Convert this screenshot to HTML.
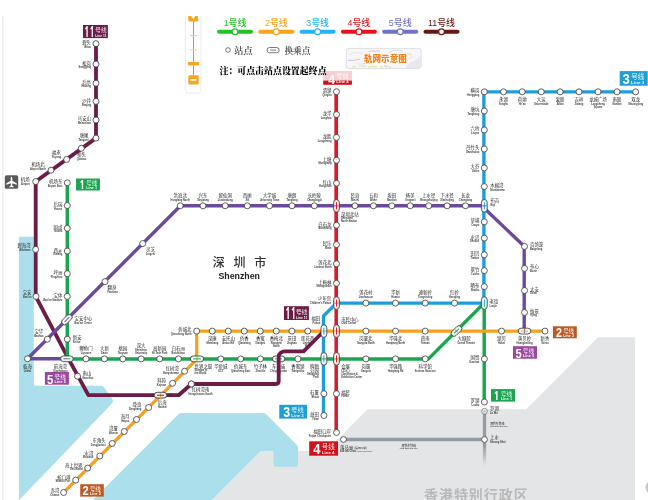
<!DOCTYPE html>
<html lang="zh-CN"><head><meta charset="utf-8"><title>深圳地铁线路图</title>
<style>html,body{margin:0;padding:0;background:#fff;overflow:hidden}body{width:648px;height:500px;position:relative;font-family:"Liberation Sans","Noto Sans CJK SC",sans-serif}svg{display:block;position:absolute;left:0;top:0}text{font-family:"Liberation Sans","Noto Sans CJK SC",sans-serif}</style></head><body>
<svg width="648" height="500" viewBox="0 0 648 500">
<defs><filter id="tb" filterUnits="userSpaceOnUse" x="0" y="0" width="5184" height="4000"><feGaussianBlur stdDeviation="1"/></filter><linearGradient id="hkfade" gradientUnits="userSpaceOnUse" x1="0" y1="411" x2="0" y2="466"><stop offset="0" stop-color="#949ba4"/><stop offset="0.62" stop-color="#949ba4"/><stop offset="1" stop-color="#949ba4" stop-opacity="0"/></linearGradient></defs>
<rect width="648" height="500" fill="#fff"/>
<line x1="2.8" y1="16.5" x2="2.8" y2="500" stroke="#ececec" stroke-width="1.2"/>
<g><path d="M635,337.3 H598 L526.2,409.3 H367.6 L326.2,451 H260.8 L211.8,500 H635 Z" fill="#e4e5e7"/><path d="M19,236.7 H33.8 V383.7 Q33.8,385.7 35.8,385.7 H101 Q102.6,385.7 103.6,386.9 L111.6,397.8 Q114.5,401.4 111.2,404.2 L19.2,500 H19 Z" fill="#abdfec"/><path d="M181.5,413 H263.8 Q265,413 265.9,413.9 L297,445 Q298,446 298,447.5 V464.8 Q298,466.8 296,466.8 H275.5 Q273.5,466.8 273.5,464.8 V451 H260.8 L211.8,500 H92.8 L178.8,414 Q179.8,413 181.5,413 Z" fill="#abdfec"/></g>
<g fill="none" stroke-linejoin="round" stroke-linecap="butt"><path d="M343.5,439.5 H484.5" stroke="#949ba4" stroke-width="3.3"/><path d="M484.5,411 V466" stroke="url(#hkfade)" stroke-width="3.3"/><path d="M96,43.6 V138.1 L35.7,181.5 V296.4 L68.5,358.8 L88.4,395.2 H172" stroke="#6c1c46" stroke-width="3.8"/><path d="M67.3,358.8 H27.5 L180.5,205.8 H484.3 V208.2 L524.2,246.3 V331" stroke="#6b4a9e" stroke-width="3.4"/><path d="M67.3,182.8 V358.9 H428.5 L484.2,303 V402" stroke="#1ba550" stroke-width="3.45"/><path d="M63.6,492.5 L196.7,359.4 V331.1 H545" stroke="#f6a11c" stroke-width="3.2"/><path d="M323.5,415.5 V316 L336.4,303.1 H483.9" stroke="#1e9ed9" stroke-width="3.35"/><path d="M483.9,304.7 V91.9 H635.7" stroke="#1e9ed9" stroke-width="3.4"/><path d="M336.2,91.7 V304" stroke="#d51c29" stroke-width="3.7"/><path d="M336.2,302 V432.5" stroke="#d51c29" stroke-width="3.5"/></g>
<g><rect x="83" y="25" width="24.9" height="13.1" fill="#6c1c46"/><rect x="76.05" y="178.5" width="23.85" height="12" fill="#1ba550"/><rect x="44.9" y="372" width="24" height="12.7" fill="#9a47a2"/><rect x="80.2" y="484.2" width="23.6" height="12.4" fill="#bb5a24"/><rect x="283.95" y="306.2" width="24.95" height="13.8" fill="#6c1c46"/><rect x="279.3" y="404.8" width="27.7" height="13.8" fill="#1c9fd7"/><rect x="309.2" y="441.3" width="28.8" height="14.4" fill="#d4101b"/><rect x="323.2" y="71.1" width="28.7" height="13.7" fill="#d4101b"/><rect x="619.7" y="71.1" width="28" height="14.6" fill="#1c9fd7"/><rect x="552.9" y="326.3" width="23.9" height="12" fill="#bb5a24"/><rect x="513" y="346.2" width="24" height="12.5" fill="#9a47a2"/><rect x="491" y="389.1" width="24" height="12.5" fill="#1ba550"/></g>
<g fill="#fff" stroke="#3a3a3a" stroke-width="0.8"><circle cx="96" cy="43.6" r="3"/><circle cx="96" cy="64.1" r="3"/><circle cx="96" cy="83.2" r="3"/><circle cx="96" cy="101.4" r="3"/><circle cx="96" cy="120" r="3"/><circle cx="96" cy="138.1" r="3"/><circle cx="81.3" cy="148.3" r="3"/><circle cx="66.7" cy="159.4" r="3"/><circle cx="51" cy="170.2" r="3"/><circle cx="35.7" cy="181.5" r="3"/><circle cx="35.7" cy="249.4" r="3"/><circle cx="36" cy="296.4" r="3"/><circle cx="77.5" cy="376.2" r="3"/><circle cx="191.4" cy="384" r="3"/><circle cx="67.3" cy="182.8" r="3"/><circle cx="67.3" cy="205.5" r="3"/><circle cx="67.3" cy="228.3" r="3"/><circle cx="67.3" cy="251.1" r="3"/><circle cx="67.3" cy="273.7" r="3"/><circle cx="67.3" cy="296.4" r="3"/><circle cx="67.3" cy="339.2" r="3"/><circle cx="86" cy="358.9" r="3"/><circle cx="104.4" cy="358.9" r="3"/><circle cx="122.8" cy="358.9" r="3"/><circle cx="141.1" cy="358.9" r="3"/><circle cx="159.7" cy="358.9" r="3"/><circle cx="178.4" cy="358.9" r="3"/><circle cx="220.8" cy="358.9" r="3"/><circle cx="240.7" cy="358.9" r="3"/><circle cx="260.4" cy="358.9" r="3"/><circle cx="297.9" cy="358.9" r="3"/><circle cx="365.9" cy="358.9" r="3"/><circle cx="395.5" cy="358.9" r="3"/><circle cx="425.2" cy="358.9" r="3"/><circle cx="484.4" cy="358.9" r="3"/><circle cx="484.4" cy="402" r="3"/><circle cx="63.6" cy="492.5" r="3"/><circle cx="75.7" cy="480.1" r="3"/><circle cx="87.7" cy="468.1" r="3"/><circle cx="99.8" cy="456" r="3"/><circle cx="112.2" cy="443.5" r="3"/><circle cx="124.3" cy="431.5" r="3"/><circle cx="136.5" cy="419.5" r="3"/><circle cx="148.6" cy="407.5" r="3"/><circle cx="172.6" cy="383.3" r="3"/><circle cx="184.6" cy="371.2" r="3"/><circle cx="196.7" cy="331.1" r="3"/><circle cx="212.3" cy="331.1" r="3"/><circle cx="228.3" cy="331.1" r="3"/><circle cx="244.3" cy="331.1" r="3"/><circle cx="260.3" cy="331.1" r="3"/><circle cx="276.3" cy="331.1" r="3"/><circle cx="291.9" cy="331.1" r="3"/><circle cx="307.7" cy="331.1" r="3"/><circle cx="365.9" cy="331.1" r="3"/><circle cx="395.5" cy="331.1" r="3"/><circle cx="425.2" cy="331.1" r="3"/><circle cx="501.5" cy="331.1" r="3"/><circle cx="545" cy="331.1" r="3"/><circle cx="323.9" cy="415.5" r="3"/><circle cx="323.9" cy="393.7" r="3"/><circle cx="365.9" cy="303.1" r="3"/><circle cx="395.5" cy="303.1" r="3"/><circle cx="425.2" cy="303.1" r="3"/><circle cx="454.5" cy="303.1" r="3"/><circle cx="484.3" cy="286.6" r="3"/><circle cx="484.3" cy="270.6" r="3"/><circle cx="484.3" cy="254.8" r="3"/><circle cx="484.3" cy="238.1" r="3"/><circle cx="484.3" cy="221.8" r="3"/><circle cx="484.3" cy="186.6" r="3"/><circle cx="484.3" cy="167.9" r="3"/><circle cx="484.3" cy="149" r="3"/><circle cx="484.3" cy="130" r="3"/><circle cx="484.3" cy="111" r="3"/><circle cx="484.3" cy="91.8" r="3"/><circle cx="503.5" cy="91.8" r="3"/><circle cx="522.2" cy="91.8" r="3"/><circle cx="541.2" cy="91.8" r="3"/><circle cx="560.1" cy="91.8" r="3"/><circle cx="579" cy="91.8" r="3"/><circle cx="598" cy="91.8" r="3"/><circle cx="617" cy="91.8" r="3"/><circle cx="635.7" cy="91.8" r="3"/><circle cx="336.5" cy="91.7" r="3"/><circle cx="336.5" cy="114.6" r="3"/><circle cx="336.5" cy="137.4" r="3"/><circle cx="336.5" cy="160.2" r="3"/><circle cx="336.5" cy="183.2" r="3"/><circle cx="336.5" cy="225.2" r="3"/><circle cx="336.5" cy="244.6" r="3"/><circle cx="336.5" cy="263.8" r="3"/><circle cx="336.5" cy="283.3" r="3"/><circle cx="336.5" cy="393.7" r="3"/><circle cx="336.5" cy="432.5" r="3"/><circle cx="27.5" cy="358.8" r="3"/><circle cx="47.3" cy="339.2" r="3"/><circle cx="105" cy="281.6" r="3"/><circle cx="142.7" cy="243.6" r="3"/><circle cx="180.2" cy="205.8" r="3"/><circle cx="203" cy="205.8" r="3"/><circle cx="225.2" cy="205.8" r="3"/><circle cx="247.3" cy="205.8" r="3"/><circle cx="269.5" cy="205.8" r="3"/><circle cx="292" cy="205.8" r="3"/><circle cx="314.3" cy="205.8" r="3"/><circle cx="355" cy="205.8" r="3"/><circle cx="373.4" cy="205.8" r="3"/><circle cx="391.8" cy="205.8" r="3"/><circle cx="410.2" cy="205.8" r="3"/><circle cx="428.7" cy="205.8" r="3"/><circle cx="447.1" cy="205.8" r="3"/><circle cx="465.5" cy="205.8" r="3"/><circle cx="524.5" cy="246.4" r="3"/><circle cx="524.5" cy="268.4" r="3"/><circle cx="524.5" cy="290.5" r="3"/><circle cx="524.5" cy="312.5" r="3"/><circle cx="343.5" cy="439.5" r="2.9"/><circle cx="484.5" cy="439.5" r="2.9"/><circle cx="484.5" cy="411.2" r="2.9" stroke="#777" fill="#f2f2f2"/><circle cx="484.5" cy="411.2" r="1.2" stroke="none" fill="#b5b8bd"/></g>
<g><g transform="translate(66.9 358.8) rotate(90)"><rect x="-2.9" y="-6.3" width="5.8" height="12.6" rx="2.9" fill="#fff" stroke="#3a3a3a" stroke-width="0.85"/><rect x="-2.1" y="-5.5" width="4.2" height="11" rx="2.1" fill="none" stroke="#1ba550" stroke-opacity="0.3" stroke-width="0.6"/><line x1="0" y1="-3.5" x2="0" y2="0" stroke="#1ba550" stroke-width="1"/><line x1="0" y1="0" x2="0" y2="3.5" stroke="#6b4a9e" stroke-width="1"/></g><g transform="translate(66.9 319.6) rotate(45)"><rect x="-2.9" y="-6.2" width="5.8" height="12.4" rx="2.9" fill="#fff" stroke="#3a3a3a" stroke-width="0.85"/><rect x="-2.1" y="-5.4" width="4.2" height="10.8" rx="2.1" fill="none" stroke="#6b4a9e" stroke-opacity="0.3" stroke-width="0.6"/><line x1="0" y1="-3.4" x2="0" y2="3.4" stroke="#6b4a9e" stroke-width="1"/></g><g transform="translate(197 358.9) rotate(90)"><rect x="-2.9" y="-6.7" width="5.8" height="13.4" rx="2.9" fill="#fff" stroke="#3a3a3a" stroke-width="0.85"/><rect x="-2.1" y="-5.9" width="4.2" height="11.8" rx="2.1" fill="none" stroke="#1ba550" stroke-opacity="0.3" stroke-width="0.6"/><line x1="-2" y1="0" x2="2" y2="0" stroke="#f6a11c" stroke-width="1.2" stroke-opacity="0.85"/><line x1="0" y1="-3.9" x2="0" y2="3.9" stroke="#1ba550" stroke-width="1"/></g><g transform="translate(160.5 395.2) rotate(90)"><rect x="-2.9" y="-6.3" width="5.8" height="12.6" rx="2.9" fill="#fff" stroke="#3a3a3a" stroke-width="0.85"/><rect x="-2.1" y="-5.5" width="4.2" height="11" rx="2.1" fill="none" stroke="#6c1c46" stroke-opacity="0.3" stroke-width="0.6"/><line x1="-2" y1="0" x2="2" y2="0" stroke="#f6a11c" stroke-width="1.2" stroke-opacity="0.85"/><line x1="0" y1="-3.5" x2="0" y2="3.5" stroke="#6c1c46" stroke-width="1"/></g><g transform="translate(278.6 358.9) rotate(90)"><rect x="-2.9" y="-6.3" width="5.8" height="12.6" rx="2.9" fill="#fff" stroke="#3a3a3a" stroke-width="0.85"/><rect x="-2.1" y="-5.5" width="4.2" height="11" rx="2.1" fill="none" stroke="#1ba550" stroke-opacity="0.3" stroke-width="0.6"/><line x1="-2" y1="0" x2="2" y2="0" stroke="#6c1c46" stroke-width="1.2" stroke-opacity="0.85"/><line x1="0" y1="-3.5" x2="0" y2="3.5" stroke="#1ba550" stroke-width="1"/></g><g transform="translate(336.5 331.1) rotate(0)"><rect x="-2.9" y="-6.3" width="5.8" height="12.6" rx="2.9" fill="#fff" stroke="#3a3a3a" stroke-width="0.85"/><rect x="-2.1" y="-5.5" width="4.2" height="11" rx="2.1" fill="none" stroke="#d51c29" stroke-opacity="0.3" stroke-width="0.6"/><line x1="-2" y1="0" x2="2" y2="0" stroke="#f6a11c" stroke-width="1.2" stroke-opacity="0.85"/><line x1="0" y1="-3.5" x2="0" y2="3.5" stroke="#d51c29" stroke-width="1"/></g><g transform="translate(336.5 303.1) rotate(0)"><rect x="-2.9" y="-6.3" width="5.8" height="12.6" rx="2.9" fill="#fff" stroke="#3a3a3a" stroke-width="0.85"/><rect x="-2.1" y="-5.5" width="4.2" height="11" rx="2.1" fill="none" stroke="#d51c29" stroke-opacity="0.3" stroke-width="0.6"/><line x1="-2" y1="0" x2="2" y2="0" stroke="#1e9ed9" stroke-width="1.2" stroke-opacity="0.85"/><line x1="0" y1="-3.5" x2="0" y2="3.5" stroke="#d51c29" stroke-width="1"/></g><g transform="translate(323.9 358.9) rotate(0)"><rect x="-2.9" y="-6.3" width="5.8" height="12.6" rx="2.9" fill="#fff" stroke="#3a3a3a" stroke-width="0.85"/><rect x="-2.1" y="-5.5" width="4.2" height="11" rx="2.1" fill="none" stroke="#1e9ed9" stroke-opacity="0.3" stroke-width="0.6"/><line x1="-2" y1="0" x2="2" y2="0" stroke="#1ba550" stroke-width="1.2" stroke-opacity="0.85"/><line x1="0" y1="-3.5" x2="0" y2="3.5" stroke="#1e9ed9" stroke-width="1"/></g><g transform="translate(336.5 358.9) rotate(0)"><rect x="-2.9" y="-6.3" width="5.8" height="12.6" rx="2.9" fill="#fff" stroke="#3a3a3a" stroke-width="0.85"/><rect x="-2.1" y="-5.5" width="4.2" height="11" rx="2.1" fill="none" stroke="#d51c29" stroke-opacity="0.3" stroke-width="0.6"/><line x1="-2" y1="0" x2="2" y2="0" stroke="#1ba550" stroke-width="1.2" stroke-opacity="0.85"/><line x1="0" y1="-3.5" x2="0" y2="3.5" stroke="#d51c29" stroke-width="1"/></g><g transform="translate(336.5 205.8) rotate(0)"><rect x="-2.9" y="-6.3" width="5.8" height="12.6" rx="2.9" fill="#fff" stroke="#3a3a3a" stroke-width="0.85"/><rect x="-2.1" y="-5.5" width="4.2" height="11" rx="2.1" fill="none" stroke="#d51c29" stroke-opacity="0.3" stroke-width="0.6"/><line x1="-2" y1="0" x2="2" y2="0" stroke="#6b4a9e" stroke-width="1.2" stroke-opacity="0.85"/><line x1="0" y1="-3.5" x2="0" y2="3.5" stroke="#d51c29" stroke-width="1"/></g><g transform="translate(484.3 205.8) rotate(0)"><rect x="-2.9" y="-6.3" width="5.8" height="12.6" rx="2.9" fill="#fff" stroke="#3a3a3a" stroke-width="0.85"/><rect x="-2.1" y="-5.5" width="4.2" height="11" rx="2.1" fill="none" stroke="#1e9ed9" stroke-opacity="0.3" stroke-width="0.6"/><line x1="-2" y1="0" x2="2" y2="0" stroke="#6b4a9e" stroke-width="1.2" stroke-opacity="0.85"/><line x1="0" y1="-3.5" x2="0" y2="3.5" stroke="#1e9ed9" stroke-width="1"/></g><g transform="translate(484.3 303.1) rotate(0)"><rect x="-2.9" y="-6.3" width="5.8" height="12.6" rx="2.9" fill="#fff" stroke="#3a3a3a" stroke-width="0.85"/><rect x="-2.1" y="-5.5" width="4.2" height="11" rx="2.1" fill="none" stroke="#1e9ed9" stroke-opacity="0.3" stroke-width="0.6"/><line x1="0" y1="-3.5" x2="0" y2="0" stroke="#1e9ed9" stroke-width="1"/><line x1="0" y1="0" x2="0" y2="3.5" stroke="#1ba550" stroke-width="1"/></g><g transform="translate(456.5 331) rotate(45)"><rect x="-2.9" y="-6.3" width="5.8" height="12.6" rx="2.9" fill="#fff" stroke="#3a3a3a" stroke-width="0.85"/><rect x="-2.1" y="-5.5" width="4.2" height="11" rx="2.1" fill="none" stroke="#1ba550" stroke-opacity="0.3" stroke-width="0.6"/><line x1="-2" y1="0" x2="2" y2="0" stroke="#f6a11c" stroke-width="1.2" stroke-opacity="0.85"/><line x1="0" y1="-3.5" x2="0" y2="3.5" stroke="#1ba550" stroke-width="1"/></g><g transform="translate(524.5 331.1) rotate(90)"><rect x="-2.9" y="-6.3" width="5.8" height="12.6" rx="2.9" fill="#fff" stroke="#3a3a3a" stroke-width="0.85"/><rect x="-2.1" y="-5.5" width="4.2" height="11" rx="2.1" fill="none" stroke="#f6a11c" stroke-opacity="0.3" stroke-width="0.6"/><line x1="-2" y1="0" x2="2" y2="0" stroke="#6b4a9e" stroke-width="1.2" stroke-opacity="0.85"/><line x1="0" y1="-3.5" x2="0" y2="3.5" stroke="#f6a11c" stroke-width="1"/></g></g>
<g><rect x="4.8" y="175.2" width="13.4" height="13.6" rx="1.6" fill="#5b5b5b"/><path transform="translate(11.5 182)" d="M0,-5.3 Q0.75,-5.3 0.75,-3.8 V-1.2 L5.3,1.6 V2.7 L0.75,1.2 V3.8 L2.2,4.8 V5.5 L0,4.9 L-2.2,5.5 V4.8 L-0.75,3.8 V1.2 L-5.3,2.7 V1.6 L-0.75,-1.2 V-3.8 Q-0.75,-5.3 0,-5.3 Z" fill="#fff"/></g>
<g transform="scale(0.125)" fill="#1e1e1e" filter="url(#tb)"><text x="728" y="352.67" font-size="35.2" text-anchor="end">碧头</text>
<text x="728" y="381.74" font-size="20.4" text-anchor="end" font-weight="bold" fill="#3c3c3c">Bitou</text>
<text x="728" y="516.67" font-size="35.2" text-anchor="end">松岗</text>
<text x="728" y="545.74" font-size="20.4" text-anchor="end" font-weight="bold" fill="#3c3c3c">Songgang</text>
<text x="728" y="669.47" font-size="35.2" text-anchor="end">后亭</text>
<text x="728" y="698.54" font-size="20.4" text-anchor="end" font-weight="bold" fill="#3c3c3c">Houting</text>
<text x="728" y="815.07" font-size="35.2" text-anchor="end">沙井</text>
<text x="728" y="844.14" font-size="20.4" text-anchor="end" font-weight="bold" fill="#3c3c3c">Shajing</text>
<text x="728" y="963.87" font-size="35.2" text-anchor="end">马安山</text>
<text x="728" y="992.94" font-size="20.4" text-anchor="end" font-weight="bold" fill="#3c3c3c">Ma'anshan</text>
<text x="708" y="1098.27" font-size="35.2" text-anchor="end">塘尾</text>
<text x="708" y="1128.14" font-size="20.4" text-anchor="end" font-weight="bold" fill="#3c3c3c">Tangwei</text>
<text x="652.8" y="1246.27" font-size="35.2" text-anchor="middle">桥头</text>
<text x="652.8" y="1277.74" font-size="20.4" text-anchor="middle" font-weight="bold" fill="#3c3c3c">Qiaotou</text>
<text x="452" y="1232.67" font-size="35.2" text-anchor="middle">福永</text>
<text x="452" y="1262.54" font-size="20.4" text-anchor="middle" font-weight="bold" fill="#3c3c3c">Fuyong</text>
<text x="304" y="1330.27" font-size="35.2" text-anchor="middle">机场北</text>
<text x="304" y="1360.14" font-size="20.4" text-anchor="middle" font-weight="bold" fill="#3c3c3c">Airport North</text>
<text x="236.8" y="1446.27" font-size="35.2" text-anchor="end">机场</text>
<text x="236.8" y="1476.14" font-size="20.4" text-anchor="end" font-weight="bold" fill="#3c3c3c">Airport</text>
<text x="244.8" y="1976.67" font-size="35.2" text-anchor="end">碧海湾</text>
<text x="244.8" y="2006.54" font-size="20.4" text-anchor="end" font-weight="bold" fill="#3c3c3c">Bihaiwan</text>
<text x="252" y="2354.27" font-size="35.2" text-anchor="end">宝安</text>
<text x="252" y="2384.14" font-size="20.4" text-anchor="end" font-weight="bold" fill="#3c3c3c">Bao'an</text>
<text x="660" y="3003.87" font-size="35.2">南山</text>
<text x="660" y="3032.94" font-size="20.4" font-weight="bold" fill="#3c3c3c">Nanshan</text>
<text x="1604" y="3131.87" font-size="35.2" text-anchor="middle">红树湾南</text>
<text x="1604" y="3161.74" font-size="20.4" text-anchor="middle" font-weight="bold" fill="#3c3c3c">Hongshuwan South</text>
<text x="498.4" y="1466.27" font-size="35.2" text-anchor="end">机场东</text>
<text x="498.4" y="1495.34" font-size="20.4" text-anchor="end" font-weight="bold" fill="#3c3c3c">Airport East</text>
<text x="498.4" y="1647.87" font-size="35.2" text-anchor="end">后瑞</text>
<text x="498.4" y="1676.94" font-size="20.4" text-anchor="end" font-weight="bold" fill="#3c3c3c">Hourui</text>
<text x="498.4" y="1830.27" font-size="35.2" text-anchor="end">固戍</text>
<text x="498.4" y="1859.34" font-size="20.4" text-anchor="end" font-weight="bold" fill="#3c3c3c">Gushu</text>
<text x="498.4" y="2012.67" font-size="35.2" text-anchor="end">西乡</text>
<text x="498.4" y="2041.74" font-size="20.4" text-anchor="end" font-weight="bold" fill="#3c3c3c">Xixiang</text>
<text x="498.4" y="2193.47" font-size="35.2" text-anchor="end">坪洲</text>
<text x="498.4" y="2222.54" font-size="20.4" text-anchor="end" font-weight="bold" fill="#3c3c3c">Pingzhou</text>
<text x="498.4" y="2375.07" font-size="35.2" text-anchor="end">宝体</text>
<text x="498.4" y="2404.14" font-size="20.4" text-anchor="end" font-weight="bold" fill="#3c3c3c">Bao'an Stadium</text>
<text x="582.4" y="2714.27" font-size="35.2">新安</text>
<text x="582.4" y="2743.34" font-size="20.4" font-weight="bold" fill="#3c3c3c">Xin'an</text>
<text x="688" y="2799.07" font-size="35.2" text-anchor="middle">鲤鱼门</text>
<text x="688" y="2830.54" font-size="20.4" text-anchor="middle" font-weight="bold" fill="#3c3c3c">Liyumen</text>
<text x="835.2" y="2799.07" font-size="35.2" text-anchor="middle">大新</text>
<text x="835.2" y="2830.54" font-size="20.4" text-anchor="middle" font-weight="bold" fill="#3c3c3c">Daxin</text>
<text x="982.4" y="2799.07" font-size="35.2" text-anchor="middle">桃园</text>
<text x="982.4" y="2830.54" font-size="20.4" text-anchor="middle" font-weight="bold" fill="#3c3c3c">Taoyuan</text>
<text x="1128.8" y="2777.47" font-size="35.2" text-anchor="middle">深大</text>
<text x="1128.8" y="2808.94" font-size="20.4" text-anchor="middle" font-weight="bold" fill="#3c3c3c">Shenzhen</text>
<text x="1128.8" y="2830.54" font-size="20.4" text-anchor="middle" font-weight="bold" fill="#3c3c3c">University</text>
<text x="1277.6" y="2799.07" font-size="35.2" text-anchor="middle">高新园</text>
<text x="1277.6" y="2830.54" font-size="20.4" text-anchor="middle" font-weight="bold" fill="#3c3c3c">Hi-Tech Park</text>
<text x="1427.2" y="2799.07" font-size="35.2" text-anchor="middle">白石洲</text>
<text x="1427.2" y="2830.54" font-size="20.4" text-anchor="middle" font-weight="bold" fill="#3c3c3c">Baishizhou</text>
<text x="1766.4" y="2943.07" font-size="35.2" text-anchor="middle">华侨城</text>
<text x="1766.4" y="2974.54" font-size="20.4" text-anchor="middle" font-weight="bold" fill="#3c3c3c">OCT</text>
<text x="1925.6" y="2943.07" font-size="35.2" text-anchor="middle">侨城东</text>
<text x="1925.6" y="2974.54" font-size="20.4" text-anchor="middle" font-weight="bold" fill="#3c3c3c">Qiaocheng East</text>
<text x="2083.2" y="2943.07" font-size="35.2" text-anchor="middle">竹子林</text>
<text x="2083.2" y="2974.54" font-size="20.4" text-anchor="middle" font-weight="bold" fill="#3c3c3c">Zhuzilin</text>
<text x="2383.2" y="2943.07" font-size="35.2" text-anchor="middle">香蜜湖</text>
<text x="2383.2" y="2974.54" font-size="20.4" text-anchor="middle" font-weight="bold" fill="#3c3c3c">Xiangmihu</text>
<text x="2927.2" y="2943.07" font-size="35.2" text-anchor="middle">岗厦</text>
<text x="2927.2" y="2974.54" font-size="20.4" text-anchor="middle" font-weight="bold" fill="#3c3c3c">Gangxia</text>
<text x="3164" y="2943.07" font-size="35.2" text-anchor="middle">华强路</text>
<text x="3164" y="2974.54" font-size="20.4" text-anchor="middle" font-weight="bold" fill="#3c3c3c">Huaqiang Rd</text>
<text x="3401.6" y="2943.07" font-size="35.2" text-anchor="middle">科学馆</text>
<text x="3401.6" y="2974.54" font-size="20.4" text-anchor="middle" font-weight="bold" fill="#3c3c3c">Science Museum</text>
<text x="3835.2" y="2875.07" font-size="35.2" text-anchor="end">国贸</text>
<text x="3835.2" y="2904.14" font-size="20.4" text-anchor="end" font-weight="bold" fill="#3c3c3c">Guomao</text>
<text x="3835.2" y="3215.07" font-size="35.2" text-anchor="end">罗湖</text>
<text x="3835.2" y="3244.14" font-size="20.4" text-anchor="end" font-weight="bold" fill="#3c3c3c">Luohu</text>
<text x="474.4" y="3937.47" font-size="35.2" text-anchor="end">赤湾</text>
<text x="474.4" y="3966.54" font-size="20.4" text-anchor="end" font-weight="bold" fill="#3c3c3c">Chiwan</text>
<text x="563.2" y="3828.67" font-size="35.2" text-anchor="end">蛇口港</text>
<text x="563.2" y="3857.74" font-size="20.4" text-anchor="end" font-weight="bold" fill="#3c3c3c">Shekou Port</text>
<text x="660" y="3732.67" font-size="35.2" text-anchor="end">海上世界</text>
<text x="660" y="3761.74" font-size="20.4" text-anchor="end" font-weight="bold" fill="#3c3c3c">Sea World</text>
<text x="746.4" y="3636.67" font-size="35.2" text-anchor="end">水湾</text>
<text x="746.4" y="3665.74" font-size="20.4" text-anchor="end" font-weight="bold" fill="#3c3c3c">Shuiwan</text>
<text x="845.6" y="3538.27" font-size="35.2" text-anchor="end">东角头</text>
<text x="845.6" y="3567.34" font-size="20.4" text-anchor="end" font-weight="bold" fill="#3c3c3c">Dongjiaotou</text>
<text x="942.4" y="3442.27" font-size="35.2" text-anchor="end">湾厦</text>
<text x="942.4" y="3471.34" font-size="20.4" text-anchor="end" font-weight="bold" fill="#3c3c3c">Wanxia</text>
<text x="1036" y="3346.27" font-size="35.2" text-anchor="end">海月</text>
<text x="1036" y="3375.34" font-size="20.4" text-anchor="end" font-weight="bold" fill="#3c3c3c">Haiyue</text>
<text x="1130.4" y="3249.47" font-size="35.2" text-anchor="end">登良</text>
<text x="1130.4" y="3278.54" font-size="20.4" text-anchor="end" font-weight="bold" fill="#3c3c3c">Dengliang</text>
<text x="1328" y="3059.07" font-size="35.2" text-anchor="end">科苑</text>
<text x="1328" y="3088.14" font-size="20.4" text-anchor="end" font-weight="bold" fill="#3c3c3c">Keyuan</text>
<text x="1431.2" y="2962.27" font-size="35.2" text-anchor="end">红树湾</text>
<text x="1431.2" y="2991.34" font-size="20.4" text-anchor="end" font-weight="bold" fill="#3c3c3c">Hongshuwan</text>
<text x="1532" y="2649.47" font-size="35.2" text-anchor="end">侨城北</text>
<text x="1532" y="2678.54" font-size="20.4" text-anchor="end" font-weight="bold" fill="#3c3c3c">Qiaocheng North</text>
<text x="1698.4" y="2720.67" font-size="35.2" text-anchor="middle">深康</text>
<text x="1698.4" y="2752.14" font-size="20.4" text-anchor="middle" font-weight="bold" fill="#3c3c3c">Shenkang</text>
<text x="1826.4" y="2720.67" font-size="35.2" text-anchor="middle">安托山</text>
<text x="1826.4" y="2752.14" font-size="20.4" text-anchor="middle" font-weight="bold" fill="#3c3c3c">Antuo Hill</text>
<text x="1954.4" y="2720.67" font-size="35.2" text-anchor="middle">侨香</text>
<text x="1954.4" y="2752.14" font-size="20.4" text-anchor="middle" font-weight="bold" fill="#3c3c3c">Qiaoxiang</text>
<text x="2082.4" y="2720.67" font-size="35.2" text-anchor="middle">香蜜</text>
<text x="2082.4" y="2752.14" font-size="20.4" text-anchor="middle" font-weight="bold" fill="#3c3c3c">Xiangmi</text>
<text x="2210.4" y="2720.67" font-size="35.2" text-anchor="middle">香梅北</text>
<text x="2210.4" y="2752.14" font-size="20.4" text-anchor="middle" font-weight="bold" fill="#3c3c3c">Xiangmei</text>
<text x="2210.4" y="2775.34" font-size="20.4" text-anchor="middle" font-weight="bold" fill="#3c3c3c">North</text>
<text x="2335.2" y="2720.67" font-size="35.2" text-anchor="middle">景田</text>
<text x="2335.2" y="2752.14" font-size="20.4" text-anchor="middle" font-weight="bold" fill="#3c3c3c">Jingtian</text>
<text x="2461.6" y="2720.67" font-size="35.2" text-anchor="middle">莲花西</text>
<text x="2461.6" y="2752.14" font-size="20.4" text-anchor="middle" font-weight="bold" fill="#3c3c3c">Lianhua</text>
<text x="2461.6" y="2775.34" font-size="20.4" text-anchor="middle" font-weight="bold" fill="#3c3c3c">West</text>
<text x="2927.2" y="2720.67" font-size="35.2" text-anchor="middle">岗厦北</text>
<text x="2927.2" y="2752.14" font-size="20.4" text-anchor="middle" font-weight="bold" fill="#3c3c3c">Gangxia North</text>
<text x="3164" y="2720.67" font-size="35.2" text-anchor="middle">华强北</text>
<text x="3164" y="2752.14" font-size="20.4" text-anchor="middle" font-weight="bold" fill="#3c3c3c">Huaqiang North</text>
<text x="3401.6" y="2720.67" font-size="35.2" text-anchor="middle">燕南</text>
<text x="3401.6" y="2752.14" font-size="20.4" text-anchor="middle" font-weight="bold" fill="#3c3c3c">Yannan</text>
<text x="4012" y="2720.67" font-size="35.2" text-anchor="middle">湖贝</text>
<text x="4012" y="2752.14" font-size="20.4" text-anchor="middle" font-weight="bold" fill="#3c3c3c">Hubei</text>
<text x="4360" y="2720.67" font-size="35.2" text-anchor="middle">新秀</text>
<text x="4360" y="2752.14" font-size="20.4" text-anchor="middle" font-weight="bold" fill="#3c3c3c">Xinxiu</text>
<text x="2551.2" y="3327.87" font-size="35.2" text-anchor="end">益田</text>
<text x="2551.2" y="3356.94" font-size="20.4" text-anchor="end" font-weight="bold" fill="#3c3c3c">Yitian</text>
<text x="2551.2" y="3153.47" font-size="35.2" text-anchor="end">石厦</text>
<text x="2551.2" y="3182.54" font-size="20.4" text-anchor="end" font-weight="bold" fill="#3c3c3c">Shixia</text>
<text x="2927.2" y="2352.67" font-size="35.2" text-anchor="middle">莲花村</text>
<text x="2927.2" y="2384.14" font-size="20.4" text-anchor="middle" font-weight="bold" fill="#3c3c3c">Lianhuacun</text>
<text x="3164" y="2352.67" font-size="35.2" text-anchor="middle">华新</text>
<text x="3164" y="2384.14" font-size="20.4" text-anchor="middle" font-weight="bold" fill="#3c3c3c">Huaxin</text>
<text x="3401.6" y="2352.67" font-size="35.2" text-anchor="middle">通新岭</text>
<text x="3401.6" y="2384.14" font-size="20.4" text-anchor="middle" font-weight="bold" fill="#3c3c3c">Tongxinling</text>
<text x="3636" y="2352.67" font-size="35.2" text-anchor="middle">红岭</text>
<text x="3636" y="2384.14" font-size="20.4" text-anchor="middle" font-weight="bold" fill="#3c3c3c">Hongling</text>
<text x="3834.4" y="2296.67" font-size="35.2" text-anchor="end">晒布</text>
<text x="3834.4" y="2325.74" font-size="20.4" text-anchor="end" font-weight="bold" fill="#3c3c3c">Shaibu</text>
<text x="3834.4" y="2168.67" font-size="35.2" text-anchor="end">翠竹</text>
<text x="3834.4" y="2197.74" font-size="20.4" text-anchor="end" font-weight="bold" fill="#3c3c3c">Cuizhu</text>
<text x="3834.4" y="2042.27" font-size="35.2" text-anchor="end">田贝</text>
<text x="3834.4" y="2071.34" font-size="20.4" text-anchor="end" font-weight="bold" fill="#3c3c3c">Tianbei</text>
<text x="3834.4" y="1908.67" font-size="35.2" text-anchor="end">水贝</text>
<text x="3834.4" y="1937.74" font-size="20.4" text-anchor="end" font-weight="bold" fill="#3c3c3c">Shuibei</text>
<text x="3834.4" y="1778.27" font-size="35.2" text-anchor="end">草埔</text>
<text x="3834.4" y="1807.34" font-size="20.4" text-anchor="end" font-weight="bold" fill="#3c3c3c">Caopu</text>
<text x="3922.4" y="1498.27" font-size="35.2">木棉湾</text>
<text x="3922.4" y="1527.34" font-size="20.4" font-weight="bold" fill="#3c3c3c">Mumianwan</text>
<text x="3834.4" y="1347.07" font-size="35.2" text-anchor="end">大芬</text>
<text x="3834.4" y="1376.14" font-size="20.4" text-anchor="end" font-weight="bold" fill="#3c3c3c">Dafen</text>
<text x="3834.4" y="1195.87" font-size="35.2" text-anchor="end">丹竹头</text>
<text x="3834.4" y="1224.94" font-size="20.4" text-anchor="end" font-weight="bold" fill="#3c3c3c">Danzhutou</text>
<text x="3834.4" y="1043.87" font-size="35.2" text-anchor="end">六约</text>
<text x="3834.4" y="1072.94" font-size="20.4" text-anchor="end" font-weight="bold" fill="#3c3c3c">Liuyue</text>
<text x="3834.4" y="891.87" font-size="35.2" text-anchor="end">塘坑</text>
<text x="3834.4" y="920.94" font-size="20.4" text-anchor="end" font-weight="bold" fill="#3c3c3c">Tangkeng</text>
<text x="3834.4" y="738.27" font-size="35.2" text-anchor="end">横岗</text>
<text x="3834.4" y="767.34" font-size="20.4" text-anchor="end" font-weight="bold" fill="#3c3c3c">Henggang</text>
<text x="4028" y="806.27" font-size="35.2" text-anchor="middle">永湖</text>
<text x="4028" y="837.74" font-size="20.4" text-anchor="middle" font-weight="bold" fill="#3c3c3c">Yonghu</text>
<text x="4177.6" y="806.27" font-size="35.2" text-anchor="middle">荷坳</text>
<text x="4177.6" y="837.74" font-size="20.4" text-anchor="middle" font-weight="bold" fill="#3c3c3c">He'ao</text>
<text x="4329.6" y="806.27" font-size="35.2" text-anchor="middle">大运</text>
<text x="4329.6" y="837.74" font-size="20.4" text-anchor="middle" font-weight="bold" fill="#3c3c3c">Universiade</text>
<text x="4480.8" y="806.27" font-size="35.2" text-anchor="middle">爱联</text>
<text x="4480.8" y="837.74" font-size="20.4" text-anchor="middle" font-weight="bold" fill="#3c3c3c">Ailian</text>
<text x="4632" y="806.27" font-size="35.2" text-anchor="middle">吉祥</text>
<text x="4632" y="837.74" font-size="20.4" text-anchor="middle" font-weight="bold" fill="#3c3c3c">Jixiang</text>
<text x="4784" y="806.27" font-size="35.2" text-anchor="middle">龙城广场</text>
<text x="4784" y="837.74" font-size="20.4" text-anchor="middle" font-weight="bold" fill="#3c3c3c">Longcheng</text>
<text x="4784" y="860.94" font-size="20.4" text-anchor="middle" font-weight="bold" fill="#3c3c3c">Square</text>
<text x="4936" y="806.27" font-size="35.2" text-anchor="middle">南联</text>
<text x="4936" y="837.74" font-size="20.4" text-anchor="middle" font-weight="bold" fill="#3c3c3c">Nanlian</text>
<text x="5085.6" y="806.27" font-size="35.2" text-anchor="middle">双龙</text>
<text x="5085.6" y="837.74" font-size="20.4" text-anchor="middle" font-weight="bold" fill="#3c3c3c">Shuanglong</text>
<text x="2652" y="737.47" font-size="35.2" text-anchor="end">清湖</text>
<text x="2652" y="766.54" font-size="20.4" text-anchor="end" font-weight="bold" fill="#3c3c3c">Qinghu</text>
<text x="2652" y="920.67" font-size="35.2" text-anchor="end">龙华</text>
<text x="2652" y="949.74" font-size="20.4" text-anchor="end" font-weight="bold" fill="#3c3c3c">Longhua</text>
<text x="2652" y="1103.07" font-size="35.2" text-anchor="end">龙胜</text>
<text x="2652" y="1132.14" font-size="20.4" text-anchor="end" font-weight="bold" fill="#3c3c3c">Longsheng</text>
<text x="2652" y="1285.47" font-size="35.2" text-anchor="end">上塘</text>
<text x="2652" y="1314.54" font-size="20.4" text-anchor="end" font-weight="bold" fill="#3c3c3c">Shangtang</text>
<text x="2652" y="1469.47" font-size="35.2" text-anchor="end">红山</text>
<text x="2652" y="1498.54" font-size="20.4" text-anchor="end" font-weight="bold" fill="#3c3c3c">Hongshan</text>
<text x="2652" y="1805.47" font-size="35.2" text-anchor="end">白石龙</text>
<text x="2652" y="1834.54" font-size="20.4" text-anchor="end" font-weight="bold" fill="#3c3c3c">Baishilong</text>
<text x="2652" y="1960.67" font-size="35.2" text-anchor="end">民乐</text>
<text x="2652" y="1989.74" font-size="20.4" text-anchor="end" font-weight="bold" fill="#3c3c3c">Minle</text>
<text x="2652" y="2114.27" font-size="35.2" text-anchor="end">莲花北</text>
<text x="2652" y="2143.34" font-size="20.4" text-anchor="end" font-weight="bold" fill="#3c3c3c">Lianhua North</text>
<text x="2652" y="2270.27" font-size="35.2" text-anchor="end">上梅林</text>
<text x="2652" y="2299.34" font-size="20.4" text-anchor="end" font-weight="bold" fill="#3c3c3c">Shangmeilin</text>
<text x="2729.6" y="3150.27" font-size="35.2">福民</text>
<text x="2729.6" y="3179.34" font-size="20.4" font-weight="bold" fill="#3c3c3c">Fumin</text>
<text x="2648" y="3467.07" font-size="35.2" text-anchor="end">福田口岸</text>
<text x="2648" y="3496.14" font-size="20.4" text-anchor="end" font-weight="bold" fill="#3c3c3c">Futian Checkpoint</text>
<text x="220" y="2942.27" font-size="35.2" text-anchor="middle">临海</text>
<text x="220" y="2973.74" font-size="20.4" text-anchor="middle" font-weight="bold" fill="#3c3c3c">Linhai</text>
<text x="310.4" y="2666.27" font-size="35.2" text-anchor="middle">宝华</text>
<text x="310.4" y="2696.14" font-size="20.4" text-anchor="middle" font-weight="bold" fill="#3c3c3c">Baohua</text>
<text x="860" y="2312.67" font-size="35.2">翻身</text>
<text x="860" y="2342.54" font-size="20.4" font-weight="bold" fill="#3c3c3c">Fanshen</text>
<text x="1168" y="2006.27" font-size="35.2">灵芝</text>
<text x="1168" y="2036.14" font-size="20.4" font-weight="bold" fill="#3c3c3c">Lingzhi</text>
<text x="1441.6" y="1574.27" font-size="35.2" text-anchor="middle">洪浪北</text>
<text x="1441.6" y="1605.74" font-size="20.4" text-anchor="middle" font-weight="bold" fill="#3c3c3c">Honglang North</text>
<text x="1624" y="1574.27" font-size="35.2" text-anchor="middle">兴东</text>
<text x="1624" y="1605.74" font-size="20.4" text-anchor="middle" font-weight="bold" fill="#3c3c3c">Xingdong</text>
<text x="1801.6" y="1574.27" font-size="35.2" text-anchor="middle">留仙洞</text>
<text x="1801.6" y="1605.74" font-size="20.4" text-anchor="middle" font-weight="bold" fill="#3c3c3c">Liuxiandong</text>
<text x="1978.4" y="1574.27" font-size="35.2" text-anchor="middle">西丽</text>
<text x="1978.4" y="1605.74" font-size="20.4" text-anchor="middle" font-weight="bold" fill="#3c3c3c">Xili</text>
<text x="2156" y="1574.27" font-size="35.2" text-anchor="middle">大学城</text>
<text x="2156" y="1605.74" font-size="20.4" text-anchor="middle" font-weight="bold" fill="#3c3c3c">University Town</text>
<text x="2336" y="1574.27" font-size="35.2" text-anchor="middle">塘朗</text>
<text x="2336" y="1605.74" font-size="20.4" text-anchor="middle" font-weight="bold" fill="#3c3c3c">Tanglang</text>
<text x="2514.4" y="1574.27" font-size="35.2" text-anchor="middle">长岭陂</text>
<text x="2514.4" y="1605.74" font-size="20.4" text-anchor="middle" font-weight="bold" fill="#3c3c3c">Changlingpi</text>
<text x="2840" y="1574.27" font-size="35.2" text-anchor="middle">民治</text>
<text x="2840" y="1605.74" font-size="20.4" text-anchor="middle" font-weight="bold" fill="#3c3c3c">Minzhi</text>
<text x="2987.2" y="1574.27" font-size="35.2" text-anchor="middle">五和</text>
<text x="2987.2" y="1605.74" font-size="20.4" text-anchor="middle" font-weight="bold" fill="#3c3c3c">Wuhe</text>
<text x="3134.4" y="1574.27" font-size="35.2" text-anchor="middle">坂田</text>
<text x="3134.4" y="1605.74" font-size="20.4" text-anchor="middle" font-weight="bold" fill="#3c3c3c">Bantian</text>
<text x="3281.6" y="1574.27" font-size="35.2" text-anchor="middle">杨美</text>
<text x="3281.6" y="1605.74" font-size="20.4" text-anchor="middle" font-weight="bold" fill="#3c3c3c">Yangmei</text>
<text x="3429.6" y="1574.27" font-size="35.2" text-anchor="middle">上水径</text>
<text x="3429.6" y="1605.74" font-size="20.4" text-anchor="middle" font-weight="bold" fill="#3c3c3c">Shangshuijing</text>
<text x="3576.8" y="1574.27" font-size="35.2" text-anchor="middle">下水径</text>
<text x="3576.8" y="1605.74" font-size="20.4" text-anchor="middle" font-weight="bold" fill="#3c3c3c">Xiashuijing</text>
<text x="3724" y="1574.27" font-size="35.2" text-anchor="middle">长龙</text>
<text x="3724" y="1605.74" font-size="20.4" text-anchor="middle" font-weight="bold" fill="#3c3c3c">Changlong</text>
<text x="4240" y="1971.87" font-size="35.2">百鸽笼</text>
<text x="4240" y="2000.94" font-size="20.4" font-weight="bold" fill="#3c3c3c">Baigelong</text>
<text x="4240" y="2147.87" font-size="35.2">布心</text>
<text x="4240" y="2176.94" font-size="20.4" font-weight="bold" fill="#3c3c3c">Buxin</text>
<text x="4240" y="2324.67" font-size="35.2">太安</text>
<text x="4240" y="2353.74" font-size="20.4" font-weight="bold" fill="#3c3c3c">Tai'an</text>
<text x="4240" y="2500.67" font-size="35.2">怡景</text>
<text x="4240" y="2529.74" font-size="20.4" font-weight="bold" fill="#3c3c3c">Yijing</text>
<text x="2720" y="3590.27" font-size="35.2">落马洲</text>
<text x="2720" y="3618.54" font-size="20.4" font-weight="bold" fill="#3c3c3c">Lok Ma Chau</text>
<text x="2836" y="3588.8" font-size="20.8" fill="#333">(福田口岸)</text>
<text x="2852" y="3617.6" font-size="15.2" fill="#333">Futian Checkpoint</text>
<text x="3270.4" y="3574.4" font-size="23.2" text-anchor="middle" fill="#222">港铁东铁线</text>
<text x="3270.4" y="3595.2" font-size="16.8" text-anchor="middle" fill="#222">MTR East Rail Line</text>
<text x="3920" y="3283.87" font-size="35.2">罗湖</text>
<text x="3920" y="3312.94" font-size="20.4" font-weight="bold" fill="#3c3c3c">Lo Wu</text>
<text x="3920" y="3396.8" font-size="23.2" fill="#222">港铁东铁线</text>
<text x="3920" y="3418.4" font-size="16.8" fill="#222">MTR East Rail Line</text>
<text x="3920" y="3511.87" font-size="35.2">上水</text>
<text x="3920" y="3540.94" font-size="20.4" font-weight="bold" fill="#3c3c3c">Sheung Shui</text>
<text x="483.2" y="2944.67" font-size="35.2" text-anchor="middle">前海湾</text>
<text x="483.2" y="2974.54" font-size="20.4" text-anchor="middle" font-weight="bold" fill="#3c3c3c">Qianhaiwan</text>
<text x="596.8" y="2561.47" font-size="35.2">宝安中心</text>
<text x="596.8" y="2591.34" font-size="20.4" font-weight="bold" fill="#3c3c3c">Bao'an Center</text>
<text x="1556.8" y="2940.67" font-size="35.2">世界之窗</text>
<text x="1556.8" y="2970.54" font-size="20.4" font-weight="bold" fill="#3c3c3c">Window of</text>
<text x="1556.8" y="2993.74" font-size="20.4" font-weight="bold" fill="#3c3c3c">the World</text>
<text x="1297.6" y="3230.27" font-size="35.2" text-anchor="middle">后海</text>
<text x="1297.6" y="3260.14" font-size="20.4" text-anchor="middle" font-weight="bold" fill="#3c3c3c">Houhai</text>
<text x="2228.8" y="2943.07" font-size="35.2" text-anchor="middle">车公庙</text>
<text x="2228.8" y="2974.54" font-size="20.4" text-anchor="middle" font-weight="bold" fill="#3c3c3c">Chegongmiao</text>
<text x="2561.6" y="2563.07" font-size="35.2" text-anchor="end">福田</text>
<text x="2561.6" y="2592.94" font-size="20.4" text-anchor="end" font-weight="bold" fill="#3c3c3c">Futian</text>
<text x="2729.6" y="2564.67" font-size="35.2">市民中心</text>
<text x="2729.6" y="2594.54" font-size="20.4" font-weight="bold" fill="#3c3c3c">Civic Center</text>
<text x="2649.6" y="2403.87" font-size="35.2" text-anchor="end">少年宫</text>
<text x="2649.6" y="2433.74" font-size="20.4" text-anchor="end" font-weight="bold" fill="#3c3c3c">Children's Palace</text>
<text x="2550.4" y="2941.47" font-size="35.2" text-anchor="end">购物</text>
<text x="2550.4" y="2974.27" font-size="35.2" text-anchor="end">公园</text>
<text x="2550.4" y="3003.34" font-size="20.4" text-anchor="end" font-weight="bold" fill="#3c3c3c">Shopping</text>
<text x="2550.4" y="3026.54" font-size="20.4" text-anchor="end" font-weight="bold" fill="#3c3c3c">Park</text>
<text x="2729.6" y="2941.47" font-size="35.2">会展</text>
<text x="2729.6" y="2974.27" font-size="35.2">中心</text>
<text x="2729.6" y="3003.34" font-size="20.4" font-weight="bold" fill="#3c3c3c">Convention &amp;</text>
<text x="2729.6" y="3026.54" font-size="20.4" font-weight="bold" fill="#3c3c3c">Exhibition Center</text>
<text x="2728" y="1724.67" font-size="35.2">深圳北站</text>
<text x="2728" y="1754.54" font-size="20.4" font-weight="bold" fill="#3c3c3c">Shenzhen</text>
<text x="2728" y="1777.74" font-size="20.4" font-weight="bold" fill="#3c3c3c">North Station</text>
<text x="3923.2" y="1616.67" font-size="35.2">布吉</text>
<text x="3923.2" y="1646.54" font-size="20.4" font-weight="bold" fill="#3c3c3c">Buji</text>
<text x="3916.8" y="2427.87" font-size="35.2">老街</text>
<text x="3916.8" y="2457.74" font-size="20.4" font-weight="bold" fill="#3c3c3c">Laojie</text>
<text x="3660.8" y="2723.07" font-size="35.2">大剧院</text>
<text x="3660.8" y="2752.94" font-size="20.4" font-weight="bold" fill="#3c3c3c">Grand Theater</text>
<text x="4196" y="2720.67" font-size="35.2" text-anchor="middle">黄贝岭</text>
<text x="4196" y="2752.14" font-size="20.4" text-anchor="middle" font-weight="bold" fill="#3c3c3c">Huangbeiling</text>
<text x="1702.4" y="2138.4" font-size="96" fill="#333" font-weight="500" letter-spacing="69.6">深圳市</text>
<text x="1913.6" y="2230.4" font-size="70.4" text-anchor="middle" font-weight="bold" fill="#222">Shenzhen</text>
<text x="3392" y="4001.6" font-size="112" fill="#b9b9ba" font-weight="700" letter-spacing="7.6">香港特别行政区</text></g>
<path d="M170,395.2 H178.6 L191.4,384 H275.6 Q278.7,384 278.7,381 V356.5 Q278.7,354.2 280.4,352.9 Q282.4,351.3 284.6,351.3 H303.6 L323.9,331" fill="none" stroke="#6c1c46" stroke-width="3.8" stroke-linejoin="round"/>
<circle cx="191.4" cy="384" r="3" fill="#fff" stroke="#3a3a3a" stroke-width="0.8"/>
<g transform="translate(323.9 331.1) rotate(0)"><rect x="-2.9" y="-6.3" width="5.8" height="12.6" rx="2.9" fill="#fff" stroke="#3a3a3a" stroke-width="0.85"/><rect x="-2.1" y="-5.5" width="4.2" height="11" rx="2.1" fill="none" stroke="#1e9ed9" stroke-opacity="0.3" stroke-width="0.6"/><line x1="-2" y1="0" x2="2" y2="0" stroke="#f6a11c" stroke-width="1.2" stroke-opacity="0.85"/><line x1="0" y1="-3.5" x2="0" y2="3.5" stroke="#1e9ed9" stroke-width="1"/></g>
<g transform="scale(0.125)" filter="url(#tb)"><text x="673.43" y="295.37" font-size="110.04" font-weight="bold" fill="#fff" textLength="83.84" lengthAdjust="spacingAndGlyphs" style="font-family:NanumGothic,'Liberation Sans',sans-serif;font-weight:800">11</text>
<text x="762.59" y="255.54" font-size="47.16" fill="#fff" fill-opacity="0.93" textLength="90.13" lengthAdjust="spacingAndGlyphs">号线</text>
<text x="762.59" y="294.32" font-size="28.3" font-weight="bold" fill="#fff" fill-opacity="0.93" textLength="90.13" lengthAdjust="spacingAndGlyphs">Line 11</text>
<text x="633.6" y="1515.36" font-size="96" font-weight="bold" fill="#fff" textLength="48" lengthAdjust="spacingAndGlyphs" style="font-family:NanumGothic,'Liberation Sans',sans-serif;font-weight:800">1</text>
<text x="690.24" y="1478.88" font-size="43.2" fill="#fff" fill-opacity="0.93" textLength="86.4" lengthAdjust="spacingAndGlyphs">号线</text>
<text x="690.24" y="1514.4" font-size="25.92" font-weight="bold" fill="#fff" fill-opacity="0.93" textLength="86.4" lengthAdjust="spacingAndGlyphs">Line 1</text>
<text x="375.94" y="3068.46" font-size="101.6" font-weight="bold" fill="#fff" textLength="50.8" lengthAdjust="spacingAndGlyphs">5</text>
<text x="435.88" y="3029.85" font-size="45.72" fill="#fff" fill-opacity="0.93" textLength="91.44" lengthAdjust="spacingAndGlyphs">号线</text>
<text x="435.88" y="3067.44" font-size="27.43" font-weight="bold" fill="#fff" fill-opacity="0.93" textLength="91.44" lengthAdjust="spacingAndGlyphs">Line 5</text>
<text x="659.28" y="3963.87" font-size="99.2" font-weight="bold" fill="#fff" textLength="49.6" lengthAdjust="spacingAndGlyphs">2</text>
<text x="717.81" y="3926.18" font-size="44.64" fill="#fff" fill-opacity="0.93" textLength="89.28" lengthAdjust="spacingAndGlyphs">号线</text>
<text x="717.81" y="3962.88" font-size="26.78" font-weight="bold" fill="#fff" fill-opacity="0.93" textLength="89.28" lengthAdjust="spacingAndGlyphs">Line 2</text>
<text x="2281.54" y="2550.06" font-size="115.92" font-weight="bold" fill="#fff" textLength="88.32" lengthAdjust="spacingAndGlyphs" style="font-family:NanumGothic,'Liberation Sans',sans-serif;font-weight:800">11</text>
<text x="2365.22" y="2508.11" font-size="49.68" fill="#fff" fill-opacity="0.93" textLength="94.94" lengthAdjust="spacingAndGlyphs">号线</text>
<text x="2365.22" y="2548.96" font-size="29.81" font-weight="bold" fill="#fff" fill-opacity="0.93" textLength="94.94" lengthAdjust="spacingAndGlyphs">Line 11</text>
<text x="2265.56" y="3338.86" font-size="110.4" font-weight="bold" fill="#fff" textLength="55.2" lengthAdjust="spacingAndGlyphs">3</text>
<text x="2330.7" y="3296.91" font-size="49.68" fill="#fff" fill-opacity="0.93" textLength="99.36" lengthAdjust="spacingAndGlyphs">号线</text>
<text x="2330.7" y="3337.76" font-size="29.81" font-weight="bold" fill="#fff" fill-opacity="0.93" textLength="99.36" lengthAdjust="spacingAndGlyphs">Line 3</text>
<text x="2505.28" y="3635.23" font-size="115.2" font-weight="bold" fill="#fff" textLength="57.6" lengthAdjust="spacingAndGlyphs">4</text>
<text x="2573.25" y="3591.46" font-size="51.84" fill="#fff" fill-opacity="0.93" textLength="103.68" lengthAdjust="spacingAndGlyphs">号线</text>
<text x="2573.25" y="3634.08" font-size="31.1" font-weight="bold" fill="#fff" fill-opacity="0.93" textLength="103.68" lengthAdjust="spacingAndGlyphs">Line 4</text>
<text x="2626.14" y="668.54" font-size="109.6" font-weight="bold" fill="#fff" textLength="54.8" lengthAdjust="spacingAndGlyphs">4</text>
<text x="2690.8" y="626.89" font-size="49.32" fill="#fff" fill-opacity="0.93" textLength="98.64" lengthAdjust="spacingAndGlyphs">号线</text>
<text x="2690.8" y="667.44" font-size="29.59" font-weight="bold" fill="#fff" fill-opacity="0.93" textLength="98.64" lengthAdjust="spacingAndGlyphs">Line 4</text>
<text x="4980.12" y="675.09" font-size="116.8" font-weight="bold" fill="#fff" textLength="58.4" lengthAdjust="spacingAndGlyphs">3</text>
<text x="5049.03" y="630.7" font-size="52.56" fill="#fff" fill-opacity="0.93" textLength="105.12" lengthAdjust="spacingAndGlyphs">号线</text>
<text x="5049.03" y="673.92" font-size="31.54" font-weight="bold" fill="#fff" fill-opacity="0.93" textLength="105.12" lengthAdjust="spacingAndGlyphs">Line 3</text>
<text x="4448.8" y="2697.76" font-size="96" font-weight="bold" fill="#fff" textLength="48" lengthAdjust="spacingAndGlyphs">2</text>
<text x="4505.44" y="2661.28" font-size="43.2" fill="#fff" fill-opacity="0.93" textLength="86.4" lengthAdjust="spacingAndGlyphs">号线</text>
<text x="4505.44" y="2696.8" font-size="25.92" font-weight="bold" fill="#fff" fill-opacity="0.93" textLength="86.4" lengthAdjust="spacingAndGlyphs">Line 2</text>
<text x="4123.5" y="2860.6" font-size="100" font-weight="bold" fill="#fff" textLength="50" lengthAdjust="spacingAndGlyphs">5</text>
<text x="4182.5" y="2822.6" font-size="45" fill="#fff" fill-opacity="0.93" textLength="90" lengthAdjust="spacingAndGlyphs">号线</text>
<text x="4182.5" y="2859.6" font-size="27" font-weight="bold" fill="#fff" fill-opacity="0.93" textLength="90" lengthAdjust="spacingAndGlyphs">Line 5</text>
<text x="3947.5" y="3203.8" font-size="100" font-weight="bold" fill="#fff" textLength="50" lengthAdjust="spacingAndGlyphs" style="font-family:NanumGothic,'Liberation Sans',sans-serif;font-weight:800">1</text>
<text x="4006.5" y="3165.8" font-size="45" fill="#fff" fill-opacity="0.93" textLength="90" lengthAdjust="spacingAndGlyphs">号线</text>
<text x="4006.5" y="3202.8" font-size="27" font-weight="bold" fill="#fff" fill-opacity="0.93" textLength="90" lengthAdjust="spacingAndGlyphs">Line 1</text></g>
<rect x="205" y="16" width="268" height="64.6" fill="#fff" fill-opacity="0.8"/>
<g><path d="M185.3,16 V90 Q185.3,93 188.3,93 H197.9 Q200.9,93 200.9,90 V16" fill="#fff" stroke="#e6e6e6" stroke-width="0.8"/><line x1="193.5" y1="20" x2="193.5" y2="76" stroke="#5cb774" stroke-width="0.95"/><path d="M188.2,16 H191 L193.2,19 L195.4,16 H198.1 V20.2 Q198.1,21.6 196.7,21.6 H189.6 Q188.2,21.6 188.2,20.2 Z" fill="#f6a623"/><rect x="190" y="35.1" width="7" height="1" fill="#f7c77d"/><rect x="190" y="49.4" width="7" height="1" fill="#f7d29c"/><rect x="187.9" y="62" width="11.2" height="3.5" rx="0.8" fill="#f6a623"/><rect x="188.3" y="75.2" width="10.4" height="9.3" rx="1.3" fill="#f6a623"/><rect x="190.6" y="79" width="5.8" height="1.8" rx="0.4" fill="#fff"/></g>
<g><line x1="219" y1="31.7" x2="251" y2="31.7" stroke="#22c322" stroke-width="4" stroke-linecap="round"/><circle cx="235" cy="31.7" r="2.9" fill="#fff" stroke="#22c322" stroke-width="1.2"/><line x1="260.3" y1="31.7" x2="292.3" y2="31.7" stroke="#f7a21b" stroke-width="4" stroke-linecap="round"/><circle cx="276.3" cy="31.7" r="2.9" fill="#fff" stroke="#f7a21b" stroke-width="1.2"/><line x1="301.6" y1="31.7" x2="333.6" y2="31.7" stroke="#22b5f5" stroke-width="4" stroke-linecap="round"/><circle cx="317.6" cy="31.7" r="2.9" fill="#fff" stroke="#22b5f5" stroke-width="1.2"/><line x1="342.9" y1="31.7" x2="374.9" y2="31.7" stroke="#e8121a" stroke-width="4" stroke-linecap="round"/><circle cx="358.9" cy="31.7" r="2.9" fill="#fff" stroke="#e8121a" stroke-width="1.2"/><line x1="384.2" y1="31.7" x2="416.2" y2="31.7" stroke="#6f72c8" stroke-width="4" stroke-linecap="round"/><circle cx="400.2" cy="31.7" r="2.9" fill="#fff" stroke="#6f72c8" stroke-width="1.2"/><line x1="425.5" y1="31.7" x2="457.5" y2="31.7" stroke="#6a1515" stroke-width="4" stroke-linecap="round"/><circle cx="441.5" cy="31.7" r="2.9" fill="#fff" stroke="#6a1515" stroke-width="1.2"/><circle cx="228" cy="50" r="2.3" fill="#fff" stroke="#555" stroke-width="0.8"/><rect x="267" y="47.5" width="12.2" height="5.2" rx="2.6" fill="#fff" stroke="#555" stroke-width="0.8"/><line x1="270.3" y1="50.1" x2="276" y2="50.1" stroke="#555" stroke-width="0.8"/><rect x="346.4" y="48.4" width="74.8" height="20.2" rx="2.6" fill="#f7f7f9" stroke="#d4d4d4" stroke-width="0.75"/><path d="M405,68 L410,62.5 L415,60.5 L420.6,56 V66 Q420.6,68 418.6,68 Z" fill="#dfe6ee" fill-opacity="0.8"/><path d="M348,60.6 l3,-0.5 l2,0.4 l3,-0.7 l4,-0.6 M369,51.6 l3,-0.8 l3,0.5 l3,-0.6 l2,0.4 M384,65.5 l2,1.3 l1.5,-1" fill="none" stroke-width="0.9" stroke-opacity="0.55" stroke="#c07be0"/><path d="M352,66.8 h4 M359,66.2 l4,-0.5 l3,0.8 M368,67 l5,-0.6 l4,0.5 M380,67.2 l3,-0.3 M388,67 l3,0.4" fill="none" stroke-width="1" stroke-opacity="0.55" stroke="#c9d94a"/><path d="M389,52.5 q4,-3 9,-2.6 l5,0.8 M400,55 l6,-2 l6,1.5 M362,64 l5,-1.2 l5,1.2" fill="none" stroke-width="0.9" stroke-opacity="0.4" stroke="#7ab2e6"/><path d="M350,54 l6,-1.5 l6,1 M408,58.5 l5,-1.5 M356,63.5 l5,0.8" fill="none" stroke-width="0.8" stroke-opacity="0.3" stroke="#e69ab0"/></g>
<g transform="scale(0.125)" filter="url(#tb)"><text x="1880" y="208" font-size="71.2" font-weight="500" text-anchor="middle" fill="#22c322">1号线</text>
<text x="2210.4" y="208" font-size="71.2" font-weight="500" text-anchor="middle" fill="#f7a21b">2号线</text>
<text x="2540.8" y="208" font-size="71.2" font-weight="500" text-anchor="middle" fill="#22b5f5">3号线</text>
<text x="2871.2" y="208" font-size="71.2" font-weight="500" text-anchor="middle" fill="#e8121a">4号线</text>
<text x="3201.6" y="208" font-size="71.2" font-weight="500" text-anchor="middle" fill="#6f72c8">5号线</text>
<text x="3532" y="208" font-size="71.2" font-weight="500" text-anchor="middle" fill="#6a1515">11号线</text>
<text x="1874.4" y="428.8" font-size="73.6" font-weight="600" fill="#3a3a3a" style="font-family:'Liberation Serif','Noto Serif CJK SC',serif">站点</text>
<text x="2275.2" y="428.8" font-size="69.6" font-weight="600" fill="#3a3a3a" style="font-family:'Liberation Serif','Noto Serif CJK SC',serif">换乘点</text>
<text x="1755.2" y="594.4" font-size="72" font-weight="900" fill="#000" style="font-family:'Liberation Serif','Noto Serif CJK SC',serif" textLength="857.6" lengthAdjust="spacingAndGlyphs">注：可点击站点设置起终点</text>
<text x="3083.2" y="495.2" font-size="71.2" font-weight="900" text-anchor="middle" fill="#f5821f" stroke="#fff" stroke-width="14.4" stroke-opacity="0.9" paint-order="stroke" textLength="344" lengthAdjust="spacingAndGlyphs">轨网示意图</text></g>
<rect x="0" y="0" width="648" height="16" fill="#fff"/>
<circle cx="652.5" cy="487.5" r="7" fill="#c9c9c9"/>
</svg>
</body></html>
